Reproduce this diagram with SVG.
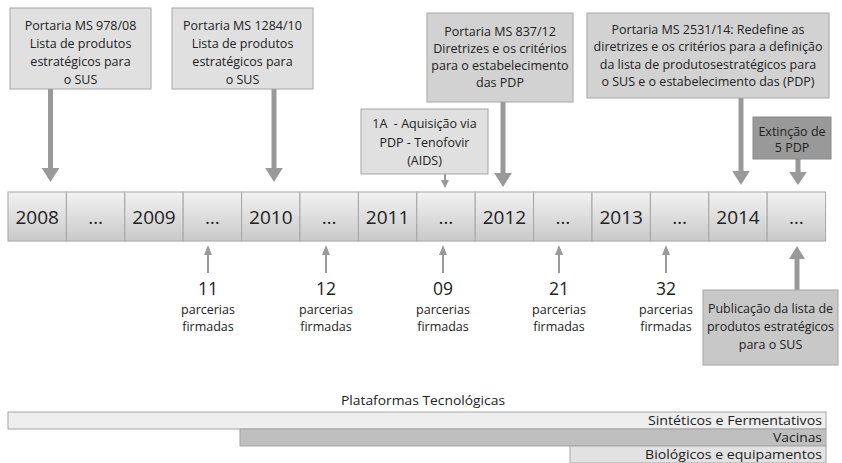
<svg xmlns="http://www.w3.org/2000/svg" width="842" height="463" viewBox="0 0 842 463">
<style>
text{font-family:"Open Sans","Noto Sans",sans-serif;fill:#222;text-anchor:middle}
.bx{font-size:12.5px}
.yr{font-size:19px}
.num{font-size:17.5px}
.sm{font-size:12.5px}
.cond{font-size:12px;text-anchor:end}
.cell{fill:url(#g);stroke:#a6a6a6;stroke-width:1}
.big{stroke:#999;stroke-width:5;fill:none}
.thin{stroke:#999;stroke-width:2;fill:none}
.hd{fill:#999}
</style>
<defs>
<linearGradient id="g" x1="0" y1="0" x2="0" y2="1">
<stop offset="0" stop-color="#f2f2f2"/>
<stop offset="1" stop-color="#c9c9c9"/>
</linearGradient>
</defs>
<g id="timeline">
<rect class="cell" x="8" y="192" width="58.4" height="49"/>
<rect class="cell" x="66.4" y="192" width="58.4" height="49"/>
<rect class="cell" x="124.8" y="192" width="58.4" height="49"/>
<rect class="cell" x="183.2" y="192" width="58.4" height="49"/>
<rect class="cell" x="241.6" y="192" width="58.4" height="49"/>
<rect class="cell" x="300" y="192" width="58.4" height="49"/>
<rect class="cell" x="358.4" y="192" width="58.4" height="49"/>
<rect class="cell" x="416.8" y="192" width="58.4" height="49"/>
<rect class="cell" x="475.2" y="192" width="58.4" height="49"/>
<rect class="cell" x="533.6" y="192" width="58.4" height="49"/>
<rect class="cell" x="592" y="192" width="58.4" height="49"/>
<rect class="cell" x="650.4" y="192" width="58.4" height="49"/>
<rect class="cell" x="708.8" y="192" width="58.4" height="49"/>
<rect class="cell" x="767.2" y="192" width="58.4" height="49"/>
<text class="yr" x="37.2" y="224">2008</text>
<text class="yr" x="95.6" y="224">…</text>
<text class="yr" x="154" y="224">2009</text>
<text class="yr" x="212.4" y="224">…</text>
<text class="yr" x="270.8" y="224">2010</text>
<text class="yr" x="329.2" y="224">…</text>
<text class="yr" x="387.6" y="224">2011</text>
<text class="yr" x="446" y="224">…</text>
<text class="yr" x="504.4" y="224">2012</text>
<text class="yr" x="562.8" y="224">…</text>
<text class="yr" x="621.2" y="224">2013</text>
<text class="yr" x="679.6" y="224">…</text>
<text class="yr" x="738" y="224">2014</text>
<text class="yr" x="796.4" y="224">…</text>
</g>
<g id="connectors">
<line class="big" x1="50.5" y1="89" x2="50.5" y2="169"/>
<polygon class="hd" points="41.7,168 59.3,168 50.5,182"/>
<line class="big" x1="274" y1="89" x2="274" y2="169"/>
<polygon class="hd" points="265.2,168 282.8,168 274,182"/>
<line class="big" x1="503" y1="102" x2="503" y2="174"/>
<polygon class="hd" points="494.2,173 511.8,173 503,187"/>
<line class="big" x1="741" y1="98" x2="741" y2="172"/>
<polygon class="hd" points="732.2,171 749.8,171 741,185"/>
<line class="big" x1="798" y1="159" x2="798" y2="173"/>
<polygon class="hd" points="789.2,172 806.8,172 798,185"/>
<line class="thin" x1="445" y1="174" x2="445" y2="181"/>
<polygon class="hd" points="441,180 449,180 445,188"/>
<line class="thin" x1="208" y1="273" x2="208" y2="254"/>
<polygon class="hd" points="204,255 212,255 208,245"/>
<line class="thin" x1="326" y1="273" x2="326" y2="254"/>
<polygon class="hd" points="322,255 330,255 326,245"/>
<line class="thin" x1="443" y1="273" x2="443" y2="254"/>
<polygon class="hd" points="439,255 447,255 443,245"/>
<line class="thin" x1="559" y1="273" x2="559" y2="254"/>
<polygon class="hd" points="555,255 563,255 559,245"/>
<line class="thin" x1="666" y1="273" x2="666" y2="254"/>
<polygon class="hd" points="662,255 670,255 666,245"/>
<line class="big" x1="797" y1="290" x2="797" y2="257"/>
<polygon class="hd" points="789,259 805,259 797,246"/>
</g>
<g id="n-978">
<rect x="10" y="8" width="141" height="81" fill="#e0e0e0" stroke="#a6a6a6"/>
<text class="bx" x="80.5" y="30">Portaria MS 978/08</text>
<text class="bx" x="80.5" y="48">Lista de produtos</text>
<text class="bx" x="80.5" y="66">estratégicos para</text>
<text class="bx" x="80.5" y="84">o SUS</text>
</g>
<g id="n-1284">
<rect x="172" y="8" width="141" height="81" fill="#e0e0e0" stroke="#a6a6a6"/>
<text class="bx" x="242.5" y="30">Portaria MS 1284/10</text>
<text class="bx" x="242.5" y="48">Lista de produtos</text>
<text class="bx" x="242.5" y="66">estratégicos para</text>
<text class="bx" x="242.5" y="84">o SUS</text>
</g>
<g id="n-1a">
<rect x="361" y="109" width="127" height="65" fill="#e0e0e0" stroke="#a6a6a6"/>
<text class="bx" x="424.5" y="128">1A&#160; - Aquisição via</text>
<text class="bx" x="424.5" y="147">PDP - Tenofovir</text>
<text class="bx" x="424.5" y="165">(AIDS)</text>
</g>
<g id="n-837">
<rect x="427" y="13" width="146" height="89" fill="#d2d2d2" stroke="#a6a6a6"/>
<text class="bx" x="500" y="36">Portaria MS 837/12</text>
<text class="bx" x="500" y="53">Diretrizes e os critérios</text>
<text class="bx" x="500" y="70">para o estabelecimento</text>
<text class="bx" x="500" y="87">das PDP</text>
</g>
<g id="n-2531">
<rect x="587" y="13" width="242" height="85" fill="#d2d2d2" stroke="#a6a6a6"/>
<text class="bx" x="708" y="34">Portaria MS 2531/14: Redefine as</text>
<text class="bx" x="708" y="51">diretrizes e os critérios para a definição</text>
<text class="bx" x="708" y="69">da lista de produtosestratégicos para</text>
<text class="bx" x="708" y="86">o SUS e o estabelecimento das (PDP)</text>
</g>
<g id="n-extincao">
<rect x="753" y="117" width="78" height="42" fill="#999999" stroke="#8a8a8a"/>
<text class="bx" x="792" y="135.5">Extinção de</text>
<text class="bx" x="792" y="151.5">5 PDP</text>
</g>
<g id="n-publicacao">
<rect x="703" y="290" width="135" height="75" fill="#c8c8c8" stroke="#a6a6a6"/>
<text class="bx" x="770.5" y="313">Publicação da lista de</text>
<text class="bx" x="770.5" y="331">produtos estratégicos</text>
<text class="bx" x="770.5" y="349">para o SUS</text>
</g>
<g id="n-parcerias">
<text class="num" x="208" y="295">11</text>
<text class="sm" x="208" y="314">parcerias</text>
<text class="sm" x="208" y="331">firmadas</text>
<text class="num" x="326" y="295">12</text>
<text class="sm" x="326" y="314">parcerias</text>
<text class="sm" x="326" y="331">firmadas</text>
<text class="num" x="443" y="295">09</text>
<text class="sm" x="443" y="314">parcerias</text>
<text class="sm" x="443" y="331">firmadas</text>
<text class="num" x="559" y="295">21</text>
<text class="sm" x="559" y="314">parcerias</text>
<text class="sm" x="559" y="331">firmadas</text>
<text class="num" x="666" y="295">32</text>
<text class="sm" x="666" y="314">parcerias</text>
<text class="sm" x="666" y="331">firmadas</text>
</g>
<g id="plataformas">
<text class="sm" x="423" y="405" textLength="164" lengthAdjust="spacingAndGlyphs">Plataformas Tecnológicas</text>
<rect x="8" y="412" width="818" height="17" fill="#eeeeee" stroke="#a6a6a6"/>
<rect x="240" y="429" width="586" height="17" fill="#bfbfbf" stroke="#a6a6a6"/>
<rect x="570" y="446" width="256" height="17" fill="#e2e2e2" stroke="#a6a6a6"/>
<text class="cond" x="822" y="425" textLength="174" lengthAdjust="spacingAndGlyphs">Sintéticos e Fermentativos</text>
<text class="cond" x="822" y="442" textLength="49" lengthAdjust="spacingAndGlyphs">Vacinas</text>
<text class="cond" x="822" y="459" textLength="177" lengthAdjust="spacingAndGlyphs">Biológicos e equipamentos</text>
</g>
</svg>
